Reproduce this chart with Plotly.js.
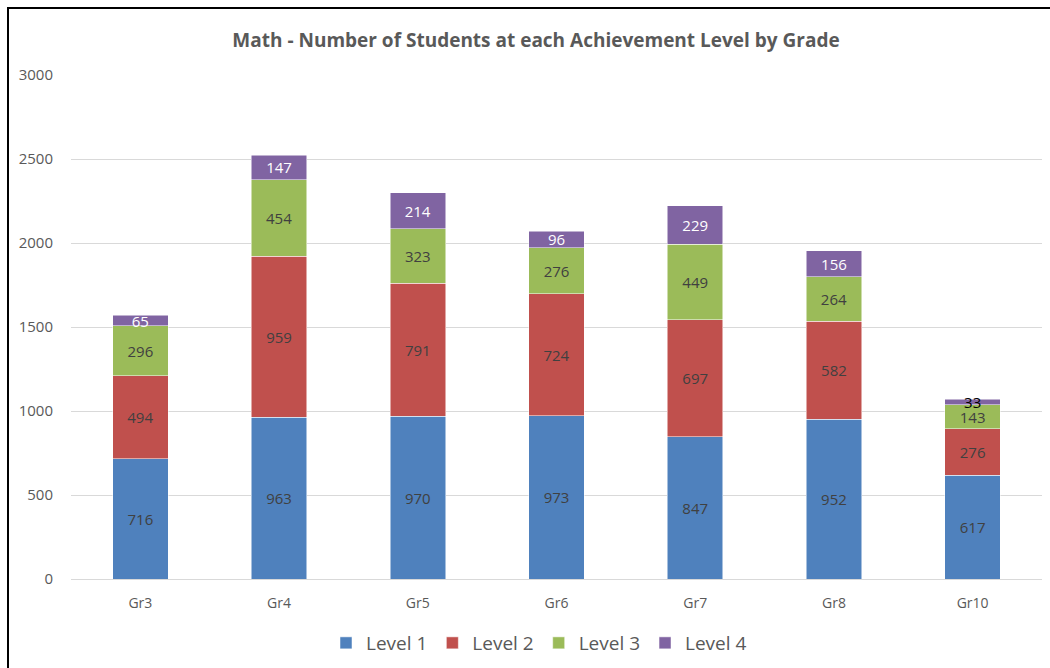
<!DOCTYPE html>
<html>
<head>
<meta charset="utf-8">
<script src="https://cdn.plot.ly/plotly-3.0.1.min.js"></script>
<style>
  html, body { margin: 0; padding: 0; background: #ffffff; }
  #wrap { position: relative; width: 1050px; height: 668px; overflow: hidden; }
  #chart { width: 1050px; height: 668px; }
  #frame { position: absolute; left: 7px; top: 7px; width: 1200px; height: 900px;
           border: 2px solid #000; pointer-events: none; }
</style>
</head>
<body>
<div id="wrap">
  <div id="chart"></div>
  <div id="frame"></div>
</div>
<script>
const grades = ["Gr3", "Gr4", "Gr5", "Gr6", "Gr7", "Gr8", "Gr10"];
const level1 = [716, 963, 970, 973, 847, 952, 617];
const level2 = [494, 959, 791, 724, 697, 582, 276];
const level3 = [296, 454, 323, 276, 449, 264, 143];
const level4 = [65, 147, 214, 96, 229, 156, 33];
const seriesNames = ["Level 1", "Level 2", "Level 3", "Level 4"];
const yTicks = [0, 500, 1000, 1500, 2000, 2500, 3000];

const colors = ["#4F81BD", "#C0504D", "#9BBB59", "#8064A2"];
const font = "Open Sans, Noto Sans, sans-serif";
const allSeries = [level1, level2, level3, level4];

const traces = allSeries.map((vals, i) => {
  let txtColor;
  if (i === 3) {
    txtColor = vals.map(v => v < 50 ? "#000000" : "#ffffff");
  } else {
    txtColor = "#404040";
  }
  return {
    type: "bar",
    name: seriesNames[i],
    x: grades,
    y: vals,
    text: vals.map(String),
    textposition: "inside",
    insidetextanchor: "middle",
    constraintext: "none",
    textangle: 0,
    textfont: { family: font, size: 15, color: txtColor },
    marker: { color: colors[i], line: { color: "#ffffff", width: 0.5 } },
    hoverinfo: "x+y+name"
  };
});

const layout = {
  width: 1050,
  height: 668,
  barmode: "stack",
  bargap: 0.6,
  paper_bgcolor: "#ffffff",
  plot_bgcolor: "#ffffff",
  margin: { l: 71, r: 8, t: 75, b: 89 },
  title: {
    text: "<b>Math - Number of Students at each Achievement Level by Grade</b>",
    font: { family: font, size: 19, color: "#595959" },
    x: 536 / 1050, xanchor: "center",
    y: 1 - 40 / 668, yanchor: "middle"
  },
  xaxis: {
    type: "category",
    automargin: false,
    tickfont: { family: font, size: 14, color: "#595959" },
    showgrid: false,
    showline: false,
    zeroline: false,
    ticks: "outside",
    ticklen: 11,
    tickcolor: "rgba(0,0,0,0)"
  },
  yaxis: {
    range: [0, 3000],
    automargin: false,
    tickvals: yTicks,
    ticktext: yTicks.map(String),
    tickfont: { family: font, size: 15, color: "#595959" },
    showgrid: true,
    gridcolor: "#d9d9d9",
    gridwidth: 1,
    zeroline: true,
    zerolinecolor: "#d9d9d9",
    zerolinewidth: 1,
    showline: false,
    ticks: "outside",
    ticklen: 14,
    tickcolor: "rgba(0,0,0,0)"
  },
  legend: {
    orientation: "h",
    xref: "container",
    yref: "container",
    x: 539 / 1050, xanchor: "center",
    y: 1 - 643 / 668, yanchor: "middle",
    font: { family: font, size: 19, color: "#595959" },
    traceorder: "normal",
    itemwidth: 30
  },
  showlegend: true
};

Plotly.newPlot("chart", traces, layout, { displayModeBar: false, staticPlot: true });
</script>
</body>
</html>
